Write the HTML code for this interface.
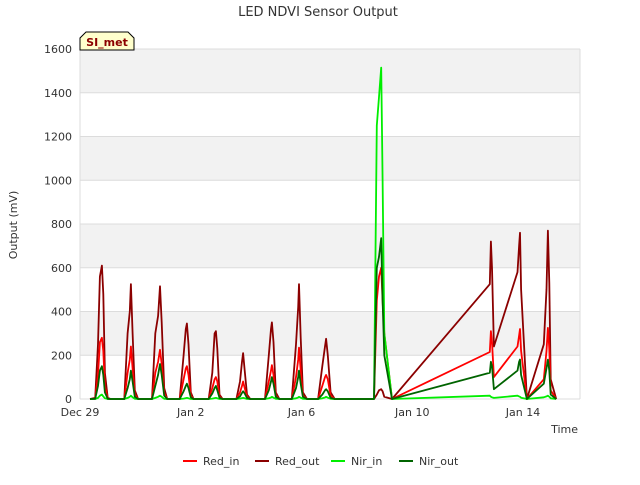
<!DOCTYPE html>
<html><head><meta charset="utf-8">
<style>
body{margin:0;background:#fff;font-family:"Liberation Sans","DejaVu Sans",sans-serif;}
svg text{font-family:"DejaVu Sans","Liberation Sans",sans-serif;}
</style></head>
<body>
<svg id="chart" width="640" height="480" xmlns="http://www.w3.org/2000/svg">
<rect width="640" height="480" fill="#fff"/>
<text x="318" y="16" text-anchor="middle" font-size="13" fill="#333">LED NDVI Sensor Output</text>
<g id="bands"></g>
<g id="grid"></g>
<g id="yticks"></g>
<g id="xticks"></g>
<text transform="translate(17,225) rotate(-90)" text-anchor="middle" font-size="11" fill="#333">Output (mV)</text>
<text x="578" y="433" text-anchor="end" font-size="11" fill="#333">Time</text>
<g id="series"></g>
<g>
<path d="M80,50 L80,38 L86,32 L128,32 L134,38 L134,50 Z" fill="#ffffcc" stroke="#000" stroke-width="1"/>
<text x="107" y="46" text-anchor="middle" font-size="11" font-weight="bold" fill="#8b0000">SI_met</text>
</g>
<g id="legend"></g>
</svg>
<script>
// time in days since Dec 29
const times=[0.36,0.55,0.65,0.72,0.79,0.84,0.9,1.0,1.1,1.6,1.72,1.8,1.84,1.9,1.98,2.1,2.6,2.72,2.82,2.89,2.95,3.04,3.15,3.6,3.74,3.82,3.86,3.92,4.0,4.1,4.65,4.78,4.86,4.91,4.96,5.04,5.15,5.65,5.78,5.85,5.89,5.95,6.03,6.15,6.68,6.82,6.9,6.93,6.99,7.07,7.2,7.65,7.8,7.88,7.91,7.97,8.05,8.2,8.6,8.75,8.85,8.89,8.95,9.05,9.2,9.5,10.62,10.72,10.8,10.88,10.93,10.99,11.27,14.8,14.84,14.88,14.95,15.8,15.86,15.89,15.93,16.14,16.75,16.85,16.9,16.95,17.0,17.2];
const redOut=[0,5,250,560,610,480,120,5,0,0,300,400,525,300,40,0,0,300,380,515,350,50,0,0,200,320,345,250,30,0,0,120,300,310,230,20,0,0,80,170,210,130,20,0,0,200,320,350,260,30,0,0,250,420,525,280,30,0,0,150,240,275,200,30,0,0,0,20,40,45,35,10,0,525,720,600,240,580,700,760,500,0,250,500,770,530,90,0];
const redIn=[0,2,110,260,280,220,60,2,0,0,120,180,240,140,20,0,0,120,170,225,160,25,0,0,90,140,150,110,15,0,0,50,90,100,80,10,0,0,30,60,80,50,10,0,0,80,130,155,110,15,0,0,100,180,235,130,15,0,0,60,100,110,90,15,0,0,0,450,560,600,450,300,0,215,310,260,100,240,290,320,220,0,90,220,325,230,40,0];
const nirOut=[0,1,60,130,150,110,30,1,0,0,50,90,130,80,10,0,0,60,110,160,110,15,0,0,35,60,70,50,8,0,0,25,50,60,40,5,0,0,12,28,35,25,5,0,0,40,80,100,70,10,0,0,50,100,130,70,10,0,0,20,40,45,35,5,0,0,0,600,650,735,450,200,0,120,170,150,45,130,170,180,110,0,70,140,180,130,20,0];
const nirIn=[0,0,5,15,20,12,3,0,0,0,5,10,15,8,1,0,0,5,10,15,10,1,0,0,2,4,5,3,0,0,0,2,4,5,3,0,0,0,2,4,5,3,0,0,0,3,7,10,6,1,0,0,3,7,10,6,1,0,0,3,7,10,6,1,0,0,0,1250,1380,1515,1000,300,0,15,10,8,5,15,12,10,6,0,8,12,15,10,3,0];
const yTicks=[0,200,400,600,800,1000,1200,1400,1600];
const xTickDays=[0,4,8,12,16];
const xTickLabels=["Dec 29","Jan 2","Jan 6","Jan 10","Jan 14"];
const seriesNames=["Red_in","Red_out","Nir_in","Nir_out"];
const seriesColors=["#ff0000","#8b0000","#00ee00","#006400"];

const X0=80,X1=580,Y0=399,Y1=49;
const xs=d=>X0+d*(523-80)/16;
const ys=v=>Y0-(v/1600)*(Y0-Y1);
const NS="http://www.w3.org/2000/svg";
function mk(tag,attrs,parent){const e=document.createElementNS(NS,tag);for(const k in attrs)e.setAttribute(k,attrs[k]);parent.appendChild(e);return e;}
const bands=document.getElementById('bands'),grid=document.getElementById('grid'),yt=document.getElementById('yticks'),xt=document.getElementById('xticks');
mk('rect',{x:X0,y:Y1,width:X1-X0,height:Y0-Y1,fill:'#fff'},bands);
for(let i=0;i<yTicks.length-1;i++){
  if(i%2===1){const r=mk('rect',{x:X0,y:ys(yTicks[i+1]),width:X1-X0,height:ys(yTicks[i])-ys(yTicks[i+1]),fill:'#f2f2f2'},bands);
  
  }
}
yTicks.forEach(v=>{
  const l=mk('line',{x1:X0,x2:X1,y1:ys(v),y2:ys(v),stroke:'#dcdcdc','stroke-width':1},grid);
  
  
  const t=mk('text',{x:X0-8,y:ys(v)+4,'text-anchor':'end','font-size':11,fill:'#333'},yt);
  t.textContent=v;
  
  
});
mk('line',{x1:X0,x2:X0,y1:Y1,y2:Y0,stroke:'#dcdcdc'},grid);
mk('line',{x1:X1,x2:X1,y1:Y1,y2:Y0,stroke:'#dcdcdc'},grid);
xTickDays.forEach((d,i)=>{
  const t=mk('text',{x:xs(d),y:416,'text-anchor':'middle','font-size':11,fill:'#333'},xt);
  t.textContent=xTickLabels[i];
  
  
});
const data=[redIn,redOut,nirIn,nirOut];
const order=[1,0,2,3];
const sg=document.getElementById('series');
order.forEach(i=>{
  const pts=times.map((t,j)=>xs(t).toFixed(1)+','+ys(data[i][j]).toFixed(1)).join(' ');
  const p=mk('polyline',{points:pts,fill:'none',stroke:seriesColors[i],'stroke-width':1.8,'stroke-linejoin':'round'},sg);
  
  
});
const lg=document.getElementById('legend');
const lx=[183,255,331,399];
seriesNames.forEach((n,i)=>{
  const g=mk('g',{},lg);
  
  
  mk('line',{x1:lx[i],x2:lx[i]+14,y1:461,y2:461,stroke:seriesColors[i],'stroke-width':2},g);
  const t=mk('text',{x:lx[i]+20,y:465,'font-size':11,fill:'#333'},g);
  t.textContent=n;
});
</script>
</body></html>
